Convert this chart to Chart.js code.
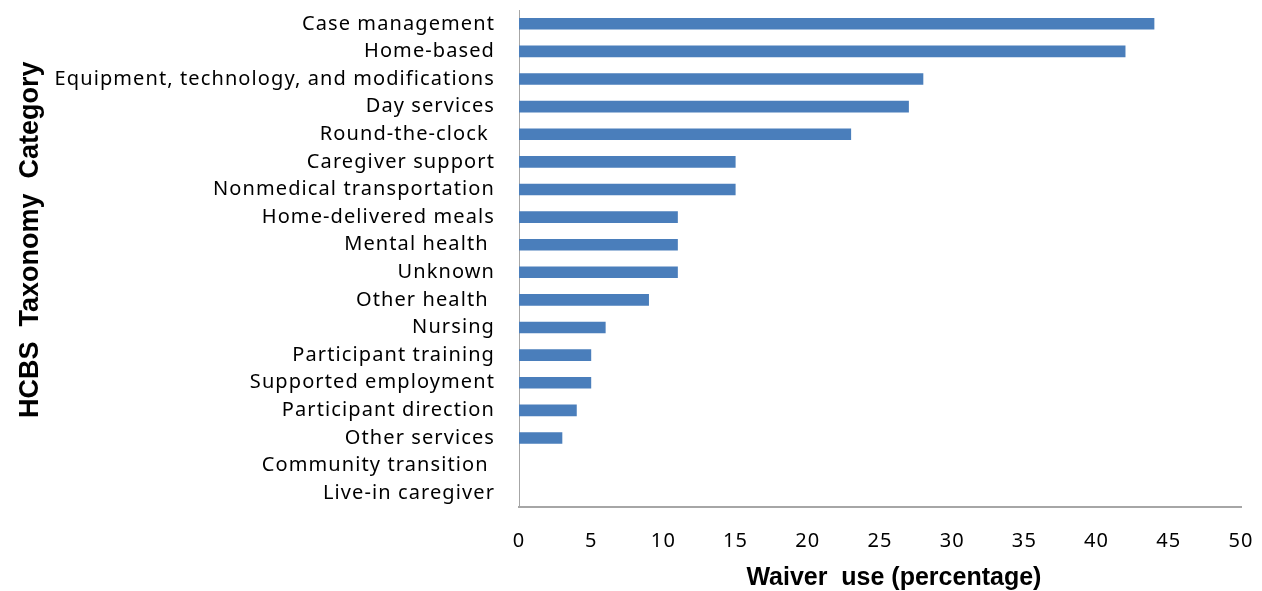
<!DOCTYPE html>
<html>
<head>
<meta charset="utf-8">
<script src="https://cdn.jsdelivr.net/npm/chart.js@4"></script>
<style>
  html, body { margin: 0; padding: 0; background: #fff; }
  #wrap { width: 1262px; height: 591px; }
</style>
</head>
<body>
<div id="wrap"><canvas id="chart" width="1262" height="591"></canvas></div>
<script>
const categories = [
  "Case management",
  "Home-based",
  "Equipment, technology, and modifications",
  "Day services",
  "Round-the-clock ",
  "Caregiver support",
  "Nonmedical transportation",
  "Home-delivered meals",
  "Mental health ",
  "Unknown",
  "Other health ",
  "Nursing",
  "Participant training",
  "Supported employment",
  "Participant direction",
  "Other services",
  "Community transition ",
  "Live-in caregiver",
];
const waiverUse = [44, 42, 28, 27, 23, 15, 15, 11, 11, 11, 9, 6, 5, 5, 4, 3, 0, 0];
const xTicks = [0, 5, 10, 15, 20, 25, 30, 35, 40, 45, 50];

const labelFont = { family: "'Noto Sans', 'Open Sans', sans-serif", size: 20 };

Chart.defaults.color = "#000";

// tick labels in the original are a bit spaced out, titles are not
const spacedLabels = {
  id: "spacedLabels",
  afterLayout(chart) {
    Object.values(chart.scales).forEach((scale) => {
      if (scale._spaced) return;
      const orig = scale.drawLabels;
      scale.drawLabels = function (area) {
        const c = this.ctx;
        c.save();
        c.letterSpacing = "1.1px";
        orig.call(this, area);
        c.restore();
      };
      scale._spaced = true;
    });
  },
};

const ctx = document.getElementById("chart");
new Chart(ctx, {
  type: "bar",
  data: {
    labels: categories,
    datasets: [
      {
        label: "Waiver use",
        data: waiverUse,
        backgroundColor: "#4a7ebb",
        borderWidth: 0,
        categoryPercentage: 1,
        barPercentage: 0.42,
      },
    ],
  },
  plugins: [spacedLabels],
  options: {
    indexAxis: "y",
    responsive: false,
    animation: false,
    layout: { padding: { top: 10, right: 21, left: 0, bottom: 0 } },
    plugins: {
      legend: { display: false },
      tooltip: { enabled: false },
    },
    scales: {
      x: {
        min: 0,
        max: 50,
        afterBuildTicks: (scale) => {
          scale.ticks = xTicks.map((v) => ({ value: v }));
        },
        afterFit: (scale) => {
          scale.height = 84;
          scale.paddingLeft = 0;
          scale.paddingRight = 0;
        },
        grid: { display: false, drawTicks: false },
        border: { display: true, color: "#a6a6a6", width: 2 },
        ticks: { font: labelFont, padding: 22, maxRotation: 0 },
        title: {
          display: true,
          text: "    Waiver  use (percentage)",
          font: { family: "'Liberation Sans', Arial, sans-serif", size: 25, weight: "bold" },
          padding: { top: 2, bottom: -2 },
        },
      },
      y: {
        afterFit: (scale) => {
          scale.width = 519;
          scale.paddingTop = 0;
          scale.paddingBottom = 0;
        },
        grid: { display: false, drawTicks: false },
        border: { display: true, color: "#a6a6a6", width: 1 },
        ticks: { font: labelFont, padding: 24, autoSkip: false },
        title: {
          display: true,
          text: "     HCBS  Taxonomy  Category",
          font: { family: "'Liberation Sans', Arial, sans-serif", size: 27, weight: "bold" },
          padding: { top: 14, bottom: 0 },
        },
      },
    },
  },
});
</script>
</body>
</html>
